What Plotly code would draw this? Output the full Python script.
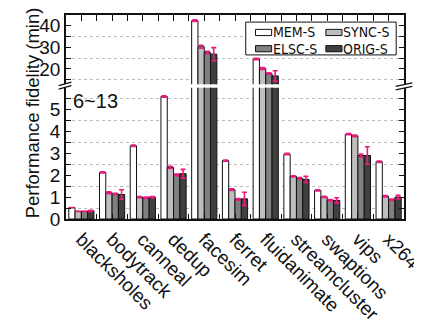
import plotly.graph_objects as go

categories = ["blacksholes", "bodytrack", "canneal", "dedup", "facesim", "ferret",
              "fluidanimate", "streamcluster", "swaptions", "vips", "x264"]
series_names = ["MEM-S", "SYNC-S", "ELSC-S", "ORIG-S"]
mem_s = [0.52, 2.13, 3.35, 5.6, 42.2, 2.67, 24.6, 2.97, 1.31, 3.88, 2.62]
sync_s = [0.35, 1.2, 1.0, 2.36, 30.2, 1.34, 20.2, 1.95, 1.01, 3.8, 1.04]
elsc_s = [0.35, 1.15, 0.97, 2.02, 27.5, 0.9, 17.9, 1.86, 0.86, 2.9, 0.88]
orig_s = [0.37, 1.12, 1.0, 2.07, 26.8, 0.92, 16.8, 1.81, 0.85, 2.9, 1.0]
mem_err = [0, 0.03, 0.03, 0.03, 0.4, 0.03, 0.3, 0.03, 0.03, 0.03, 0.03]
sync_err = [0, 0.04, 0.03, 0.05, 0.7, 0.04, 0.4, 0.03, 0.03, 0.04, 0.03]
elsc_err = [0, 0.03, 0.03, 0.04, 0.6, 0.04, 0.3, 0.04, 0.03, 0.07, 0.03]
orig_err = [0.03, 0.22, 0.03, 0.2, 3.0, 0.3, 2.4, 0.14, 0.12, 0.4, 0.08]
low_ticks = [0, 1, 2, 3, 4, 5]
low_grid = [0.5, 1.5, 2.5, 3.5, 4.5, 5.5]
up_ticks = [20, 30, 40]
up_grid = [15, 25, 35]
break_note = "6~13"
y_title = "Performance fidelity (min)"

values = [mem_s, sync_s, elsc_s, orig_s]
errors = [mem_err, sync_err, elsc_err, orig_err]
fills = ["#ffffff", "#bebebe", "#808080", "#404040"]
xs = list(range(len(categories)))

FONT = "Liberation Sans, Arial, sans-serif"
NARROW = "Liberation Sans Narrow, Arial Narrow, DejaVu Sans Condensed, sans-serif"
INK = "#111111"
W, H = 422, 324
L, R, T, B = 58, 18, 7, 87
pw, ph = W - L - R, H - T - B
y_up_bot, y_low_top = 85, 89


def px(x):
    return (x - L) / pw


def py(y):
    return (H - B - y) / ph


fig = go.Figure()
for i, name in enumerate(series_names):
    for axis in ("y", "y2"):
        fig.add_trace(go.Bar(
            x=xs, y=values[i], name=name, showlegend=False,
            xaxis="x" if axis == "y" else "x2", yaxis=axis,
            marker=dict(color=fills[i], line=dict(color=INK, width=1)),
            error_y=dict(type="data", array=errors[i], color="#f0187f",
                         thickness=1.6, width=2.5),
        ))

grid_kw = dict(showgrid=True, gridcolor="#bdbdbd", griddash="dot", gridwidth=1)
fig.update_layout(
    width=W, height=H,
    margin=dict(l=L, r=R, t=T, b=B),
    paper_bgcolor="white", plot_bgcolor="white",
    font=dict(family=FONT, size=18, color=INK),
    barmode="group", bargap=0.18, bargroupgap=0,
    showlegend=False,
    xaxis=dict(domain=[0, 1], range=[-0.5, len(categories) - 0.5], anchor="y",
               tickvals=xs, ticktext=categories, tickangle=45,
               ticklabeloverflow="allow",
               ticks="inside", ticklen=5, tickcolor=INK,
               minor=dict(dtick=0.5, tick0=0.5, ticks="inside", ticklen=5, tickcolor=INK),
               showline=True, linecolor=INK, linewidth=1.5, mirror=False,
               showgrid=False, zeroline=False,
               tickfont=dict(size=19)),
    xaxis2=dict(domain=[0, 1], range=[-0.5, len(categories) - 0.5], anchor="y2",
                matches="x", side="top", showticklabels=False,
                tickvals=xs, ticks="inside", ticklen=6, tickcolor=INK,
                minor=dict(dtick=0.5, tick0=0.5, ticks="inside", ticklen=6, tickcolor=INK),
                showline=True, linecolor=INK, linewidth=1.5,
                showgrid=False, zeroline=False),
    yaxis=dict(domain=[0, py(y_low_top)], range=[0, 6], anchor="x",
               tickvals=low_ticks, ticks="inside", ticklen=5, tickcolor=INK,
               showline=True, linecolor=INK, linewidth=1.5, mirror="ticks",
               showgrid=False, zeroline=False,
               minor=dict(tickvals=low_grid, ticks="inside", ticklen=5, tickcolor=INK, **grid_kw),
               tickfont=dict(size=19)),
    yaxis2=dict(domain=[py(y_up_bot), 1], range=[13, 44.8], anchor="x2",
                tickvals=up_ticks, ticks="inside", ticklen=5, tickcolor=INK,
                showline=True, linecolor=INK, linewidth=1.5, mirror="ticks",
                showgrid=False, zeroline=False,
                minor=dict(tickvals=up_grid, ticks="inside", ticklen=5, tickcolor=INK, **grid_kw),
                tickfont=dict(size=19)),
)

fig.add_annotation(text=y_title, xref="paper", yref="paper", x=px(24), y=py(117),
                   textangle=-90, showarrow=False, font=dict(size=18.5),
                   xanchor="center", yanchor="middle")
fig.add_annotation(text=break_note, xref="paper", yref="paper", x=px(63), y=py(104.5),
                   showarrow=False, font=dict(size=20), xanchor="left", yanchor="middle")

# legend (two columns, boxed)
fig.add_shape(type="rect", xref="paper", yref="paper",
              x0=px(242), y0=py(52), x1=px(396), y1=py(15),
              line=dict(color=INK, width=1), fillcolor="white", layer="above")
legend_pos = [(252, 26.7), (324, 26.7), (252, 45), (324, 45)]
for i, name in enumerate(series_names):
    sx, sy = legend_pos[i]
    fig.add_shape(type="rect", xref="paper", yref="paper",
                  x0=px(sx), y0=py(sy + 3.5), x1=px(sx + 16.5), y1=py(sy - 3.5),
                  line=dict(color=INK, width=1), fillcolor=fills[i], layer="above")
    fig.add_annotation(text=name, xref="paper", yref="paper", x=px(sx + 17), y=py(sy),
                       showarrow=False, font=dict(size=14, family=NARROW), xanchor="left",
                       yanchor="middle", xshift=-1)

# axis-break marks
for cx, cy, half in ((57, 86.7, 6.5), (404, 87.5, 8.5)):
    for dy in (-2, 2):
        fig.add_shape(type="line", xref="paper", yref="paper",
                      x0=px(cx - half), y0=py(cy + dy + 2), x1=px(cx + half), y1=py(cy + dy - 2),
                      line=dict(color=INK, width=1.3))

fig.write_html("out.html")
